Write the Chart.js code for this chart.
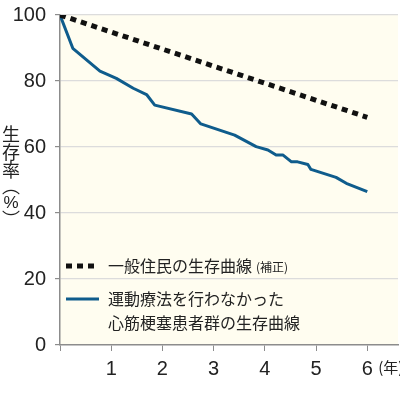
<!DOCTYPE html>
<html>
<head>
<meta charset="utf-8">
<script src="https://cdn.jsdelivr.net/npm/chart.js@4.4.1/dist/chart.umd.min.js"></script>
<style>
  html, body { margin: 0; padding: 0; background: #fff; }
  #wrap { width: 400px; height: 393px; }
</style>
</head>
<body>
<div id="wrap"><canvas id="survival" width="400" height="393"></canvas></div>
<script>
// data
const generalYears = [0, 6];
const generalSurvival = [100, 69];

const rehabYears = [0, 0.25, 0.78, 1.1, 1.43, 1.69, 1.85, 2.57, 2.75, 3.41, 3.83, 4.06, 4.22, 4.35, 4.52, 4.64, 4.84, 4.9, 5.39, 5.59, 6.0];
const rehabSurvival = [100, 89.9, 83, 80.8, 77.8, 75.9, 72.7, 70, 67, 63.6, 60.1, 59.1, 57.6, 57.6, 55.5, 55.5, 54.7, 53.2, 50.8, 49, 46.5];

const yTickValues = [0, 20, 40, 60, 80, 100];
const xTickValues = [0, 1, 2, 3, 4, 5, 6];
const xTickLabels = ["", "1", "2", "3", "4", "5", "6"];

const legendGeneral = "一般住民の生存曲線";
const legendGeneralNote = "(補正)";
const legendRehab = ["運動療法を行わなかった", "心筋梗塞患者群の生存曲線"];
const yTitle = ["生", "存", "率", "︵", "%", "︶"];
const xUnit = "(年)";

const narrow = "'Liberation Sans Narrow', 'Liberation Sans', 'DejaVu Sans', sans-serif";
const cjk = "'Noto Sans CJK JP', sans-serif";

function toPoints(xs, ys) {
  return xs.map(function (x, i) { return { x: x, y: ys[i] }; });
}

// cream plot background
const plotBg = {
  id: "plotBg",
  beforeDraw: function (chart) {
    const a = chart.chartArea;
    const ctx = chart.ctx;
    ctx.save();
    ctx.fillStyle = "#fffdf0";
    ctx.fillRect(a.left, a.top, a.right - a.left, a.bottom - a.top);
    ctx.restore();
  }
};

// legend, axis title and year unit
const extras = {
  id: "extras",
  afterDraw: function (chart) {
    const ctx = chart.ctx;
    const xs = chart.scales.x;
    ctx.save();

    // legend samples
    ctx.lineWidth = 5;
    ctx.strokeStyle = "#111";
    ctx.setLineDash([6, 5]);
    ctx.beginPath();
    ctx.moveTo(66, 266);
    ctx.lineTo(99, 266);
    ctx.stroke();
    ctx.setLineDash([]);
    ctx.lineWidth = 3;
    ctx.strokeStyle = "#0f5c8c";
    ctx.beginPath();
    ctx.moveTo(66, 299);
    ctx.lineTo(99, 299);
    ctx.stroke();

    ctx.fillStyle = "#222";
    ctx.textBaseline = "middle";
    ctx.textAlign = "left";
    ctx.font = "16px " + cjk;
    ctx.fillText(legendGeneral, 108, 266);
    const w = ctx.measureText(legendGeneral).width;
    ctx.font = "12px " + cjk;
    ctx.fillText(legendGeneralNote, 108 + w + 4, 267);
    ctx.font = "16px " + cjk;
    ctx.fillText(legendRehab[0], 108, 299);
    ctx.fillText(legendRehab[1], 108, 323);

    // vertical y title
    ctx.textAlign = "center";
    const ys = [134, 152, 170, 186, 203, 219];
    yTitle.forEach(function (ch, i) {
      if (ch === "%") {
        ctx.font = "condensed 17px " + narrow;
      } else {
        ctx.font = "18px " + cjk;
      }
      ctx.fillText(ch, 11, ys[i]);
    });

    // year unit after last tick
    ctx.textAlign = "left";
    ctx.font = "15px " + cjk;
    ctx.fillText(xUnit, xs.getPixelForValue(6) + 11, 367);
    ctx.restore();
  }
};

new Chart(document.getElementById("survival"), {
  type: "scatter",
  data: {
    datasets: [
      {
        label: legendGeneral,
        data: toPoints(generalYears, generalSurvival),
        showLine: true,
        borderColor: "#111",
        borderWidth: 5,
        borderDash: [6, 5],
        pointRadius: 0
      },
      {
        label: legendRehab.join(""),
        data: toPoints(rehabYears, rehabSurvival),
        showLine: true,
        borderColor: "#0f5c8c",
        borderWidth: 3,
        pointRadius: 0,
        borderJoinStyle: "round"
      }
    ]
  },
  options: {
    responsive: false,
    animation: false,
    layout: { padding: { top: 15, right: 2, left: 0, bottom: 0 } },
    plugins: {
      legend: { display: false },
      tooltip: { enabled: false }
    },
    scales: {
      x: {
        type: "linear",
        min: 0,
        max: 6.6,
        afterBuildTicks: function (scale) {
          scale.ticks = xTickValues.map(function (v) { return { value: v }; });
        },
        afterFit: function (scale) {
          scale.height = 48;
          scale.paddingLeft = 0;
          scale.paddingRight = 0;
        },
        border: { color: "#8c8c8c", width: 1.5 },
        grid: {
          drawOnChartArea: false,
          drawTicks: true,
          tickLength: 6,
          tickColor: "#8c8c8c"
        },
        ticks: {
          autoSkip: false,
          maxRotation: 0,
          padding: 6,
          color: "#222",
          font: { family: narrow, size: 20, weight: "condensed" },
          callback: function (v) {
            const i = xTickValues.indexOf(v);
            return i >= 0 ? xTickLabels[i] : "";
          }
        }
      },
      y: {
        min: 0,
        max: 100,
        afterBuildTicks: function (scale) {
          scale.ticks = yTickValues.map(function (v) { return { value: v }; });
        },
        afterFit: function (scale) {
          scale.width = 60;
          scale.paddingTop = 0;
          scale.paddingBottom = 0;
        },
        border: { color: "#8c8c8c", width: 1.5 },
        grid: {
          color: function (c) { return c.tick && c.tick.value === 0 ? "rgba(0,0,0,0)" : "#dcdcdc"; },
          lineWidth: 1.2,
          tickLength: 5,
          tickColor: "#8c8c8c"
        },
        ticks: {
          padding: 9,
          color: "#222",
          font: { family: narrow, size: 20, weight: "condensed" }
        }
      }
    }
  },
  plugins: [plotBg, extras]
});
</script>
</body>
</html>
